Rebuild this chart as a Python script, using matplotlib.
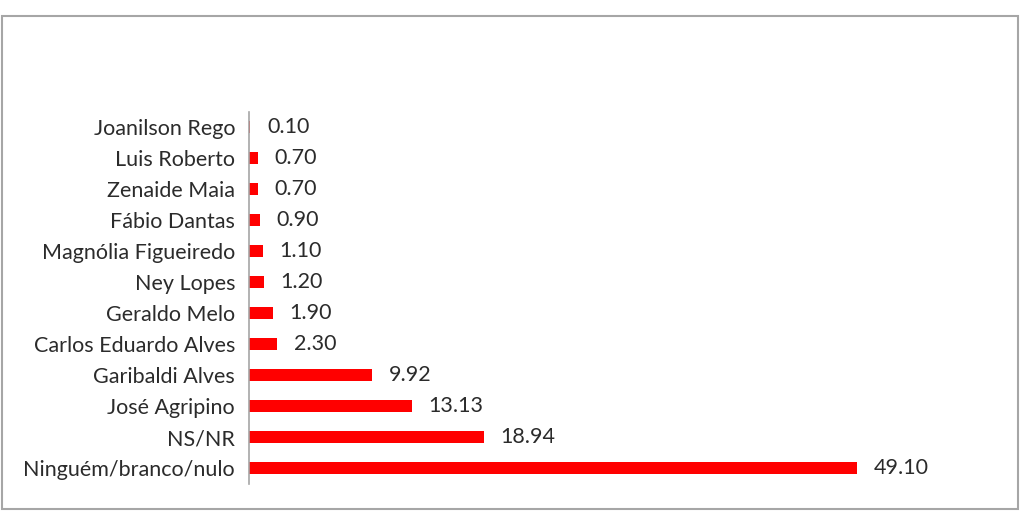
import numpy as np
import matplotlib
matplotlib.use('Agg')
import matplotlib.pyplot as plt
from matplotlib.patches import Rectangle

candidates = ['Joanilson Rego', 'Luis Roberto', 'Zenaide Maia', 'Fábio Dantas',
              'Magnólia Figueiredo', 'Ney Lopes', 'Geraldo Melo',
              'Carlos Eduardo Alves', 'Garibaldi Alves', 'José Agripino',
              'NS/NR', 'Ninguém/branco/nulo']
values = [0.10, 0.70, 0.70, 0.90, 1.10, 1.20, 1.90, 2.30, 9.92, 13.13, 18.94, 49.10]

plt.rcParams['font.family'] = ['Lato', 'DejaVu Sans']

W, H = 1024, 523
fig = plt.figure(figsize=(W / 100, H / 100), dpi=100)
fig.patch.set_facecolor('white')

# outer frame
fig.patches.append(Rectangle((2 / W, 1 - 509 / H), 1016 / W, 493 / H,
                             transform=fig.transFigure, fill=False,
                             edgecolor='#a6a6a6', linewidth=1.5))

left, right = 249 / W, 992 / W
bottom, top = 1 - 483.5 / H, 1 - 111.5 / H
ax = fig.add_axes([left, bottom, right - left, top - bottom])

y = np.arange(len(candidates))
ax.barh(y, values, height=0.4, color='#ff0000')
ax.set_xlim(0, 60)
ax.set_ylim(len(candidates) - 0.5, -0.5)

for yi, v in zip(y, values):
    ax.annotate(f'{v:.2f}', (v, yi), xytext=(12, 0), textcoords='offset points',
                va='center', ha='left', fontsize=15.5, color='#2b2b2b')

ax.set_yticks(y)
ax.set_yticklabels(candidates, fontsize=15.5, color='#2b2b2b')
ax.tick_params(axis='y', length=0, pad=10)
ax.set_xticks([])
for s in ['top', 'right', 'bottom']:
    ax.spines[s].set_visible(False)
ax.spines['left'].set_color('#a6a6a6')
ax.spines['left'].set_linewidth(1.2)

fig.savefig('out.png', dpi=100)
